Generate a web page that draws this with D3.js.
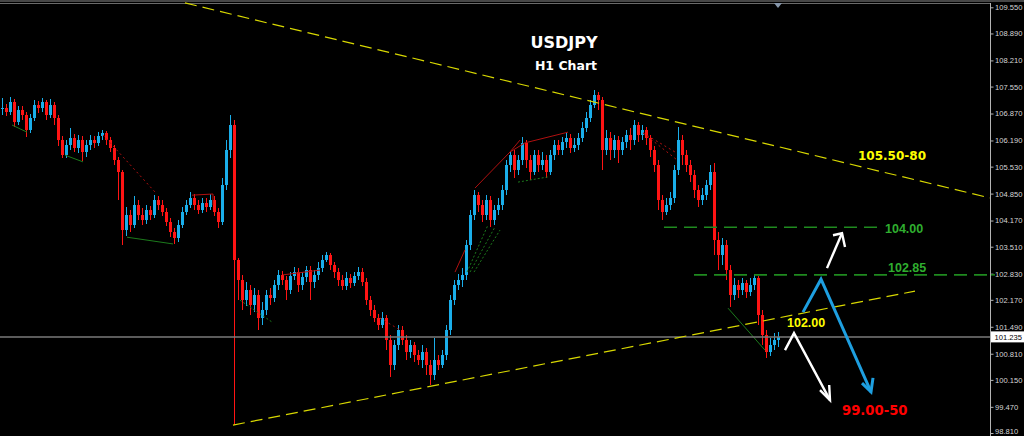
<!DOCTYPE html>
<html><head><meta charset="utf-8">
<script src="https://cdn.jsdelivr.net/npm/d3@7"></script>
<style>html,body{margin:0;padding:0;background:#000;overflow:hidden}</style>
</head><body>
<svg id="c" width="1024" height="436"></svg>
<script>
// ---- DATA (USDJPY H1, prices) ----
const closes = [
107.01,106.91,107.16,106.66,106.96,106.83,106.45,106.76,107.08,107.01,107.16,106.83,107.08,106.76,106.20,
105.82,106.08,106.25,106.00,106.20,105.90,106.08,106.20,106.13,106.30,106.38,106.20,106.00,105.70,105.39,
103.93,104.31,104.06,104.56,104.31,104.18,104.43,104.31,104.69,104.56,104.38,104.13,103.88,103.73,104.06,
104.38,104.56,104.74,104.56,104.43,104.61,104.51,104.69,104.38,104.13,105.07,105.95,106.58,103.17,
102.67,102.16,102.42,102.04,102.29,101.71,101.91,102.29,102.21,102.54,102.80,102.67,102.42,102.77,102.87,102.54,
102.74,102.92,102.62,102.80,102.97,103.17,103.30,103.05,102.87,102.67,102.52,102.72,102.59,102.77,102.87,
102.62,102.16,101.91,101.71,101.53,101.71,101.15,100.52,101.03,101.41,101.15,100.85,101.03,100.78,100.65,
100.85,100.52,100.27,100.65,100.52,100.78,101.41,102.16,102.54,102.67,102.80,103.55,104.31,104.81,104.56,
104.31,104.69,104.18,104.43,104.56,104.94,105.57,105.82,105.44,105.70,106.13,105.70,105.39,105.82,105.57,
105.70,105.39,105.82,106.08,105.95,106.15,106.25,106.00,106.08,106.25,106.50,106.76,107.08,107.34,107.21,
105.95,106.25,105.95,106.20,105.95,106.15,106.33,106.20,106.58,106.33,106.45,106.25,105.95,105.57,104.69,
104.38,104.56,104.74,105.44,106.20,105.82,105.57,105.32,104.94,104.69,104.81,105.07,105.39,103.68,103.30,
103.55,102.92,102.29,102.54,102.42,102.59,102.37,102.54,102.72,101.79,101.28,100.85,101.03,101.15,101.24];
const highs = [
107.26,107.11,107.29,107.24,107.06,107.06,106.91,106.86,107.21,107.19,107.26,107.21,107.24,107.16,106.83,
106.30,106.20,106.50,106.35,106.33,106.30,106.20,106.33,106.30,106.40,106.45,106.43,106.28,106.08,105.77,
105.44,104.51,104.43,104.79,104.69,104.49,104.56,104.54,104.81,104.79,104.69,104.49,104.23,103.98,104.18,
104.51,104.69,104.89,104.84,104.69,104.74,104.74,104.84,104.79,104.49,105.24,106.20,106.83,106.71,
103.22,102.80,102.62,102.54,102.47,102.42,102.11,102.42,102.47,102.67,102.92,102.90,102.77,102.87,103.00,102.97,
102.87,103.02,103.02,102.92,103.12,103.30,103.38,103.35,103.12,102.97,102.80,102.87,102.82,102.87,103.00,
102.97,102.72,102.27,102.04,101.81,101.86,101.79,101.28,101.15,101.53,101.51,101.28,101.15,101.10,100.90,
101.03,100.95,100.65,101.20,100.78,100.90,101.53,102.29,102.67,102.82,102.97,103.68,104.43,104.94,104.89,
104.69,104.81,104.79,104.56,104.74,105.07,105.70,105.90,105.95,105.82,106.28,106.20,105.82,105.95,105.95,
105.90,105.82,105.95,106.20,106.20,106.28,106.38,106.35,106.25,106.38,106.66,106.91,107.21,107.46,107.41,
107.29,106.45,106.40,106.33,106.30,106.28,106.45,106.50,106.71,106.66,106.58,106.53,106.33,106.05,105.70,
104.81,104.74,104.89,105.57,106.53,106.33,105.95,105.70,105.44,105.07,104.99,105.19,105.57,105.62,103.88,
103.73,103.68,103.05,102.72,102.67,102.72,102.67,102.72,102.82,102.77,101.91,101.41,101.20,101.33,101.36];
const lows = [
106.83,106.81,106.83,106.53,106.58,106.71,106.28,106.38,106.68,106.88,106.91,106.71,106.76,106.58,106.05,
105.75,105.75,105.95,105.90,105.87,105.67,105.77,105.95,106.00,106.05,106.20,106.08,105.90,105.57,104.69,
103.55,103.78,103.88,103.98,104.18,104.06,104.08,104.18,104.23,104.43,104.28,104.03,103.75,103.58,103.63,
103.98,104.31,104.49,104.43,104.33,104.36,104.38,104.43,104.28,103.98,104.06,104.94,105.75,99.01,
102.16,101.91,102.01,101.79,101.86,101.41,101.53,101.79,102.04,102.11,102.42,102.54,102.16,102.32,102.67,102.37,
102.42,102.62,102.16,102.47,102.67,102.87,103.12,102.92,102.72,102.52,102.42,102.42,102.47,102.52,102.67,
102.52,102.04,101.76,101.61,101.41,101.46,100.90,100.22,100.40,100.90,101.03,100.65,100.70,100.60,100.52,
100.45,100.27,100.02,100.14,100.40,100.45,100.65,101.28,102.04,102.42,102.49,102.67,103.43,104.18,104.38,
104.13,104.18,104.01,104.06,104.31,104.43,104.81,105.39,105.24,105.32,105.57,105.49,105.19,105.32,105.39,
105.44,105.24,105.32,105.70,105.82,105.82,106.00,105.87,105.90,105.95,106.15,106.40,106.66,107.01,106.96,
105.44,105.82,105.70,105.75,105.62,105.82,106.00,105.95,106.08,106.15,106.20,106.08,105.77,105.39,104.43,
104.18,104.31,104.43,104.61,105.32,105.57,105.39,105.14,104.74,104.51,104.56,104.69,104.94,103.30,102.92,
103.05,102.67,101.99,102.16,102.21,102.29,102.21,102.26,102.42,101.53,101.03,100.70,100.75,100.90,100.98];

const tickLabels = ["109.550","108.890","108.210","107.550","106.870","106.190","105.530","104.850",
  "104.170","103.510","102.830","102.170","101.490","100.810","100.150","99.470","98.810"];
const currentPrice = 101.235;

// trend lines and levels: [barIndex, price]
const upperTrend = [[45.75,109.66],[247,104.74]];
const lowerTrend = [[57.75,99.01],[228.25,102.39]];
const level104 = [[165.5,104.00],[219.5,104.00]];
const level10285 = [[173,102.80],[247,102.80]];

// helper zigzag / fractal lines
const greenSolid = [
  [[2.5,106.58],[6.25,106.40]],
  [[15.75,105.82],[20.25,105.65]],
  [[31.25,103.75],[42.75,103.58]],
  [[181.5,101.96],[190.75,100.90]]
];
const greenDotted = [
  [[59.5,102.16],[67.5,101.61]],
  [[116.25,102.87],[121.5,104.06]],
  [[117,102.87],[123.25,104.01]],
  [[118,102.87],[124.5,103.93]],
  [[129,105.14],[136.5,105.27]]
];
const redSolid = [
  [[47.5,104.81],[52.75,104.84],[52.75,104.56]],
  [[70.25,102.80],[79.5,102.92]],
  [[113.25,102.87],[115.75,103.43]],
  [[118.25,104.99],[127,105.90],[129.5,106.20]],
  [[127,105.90],[130.75,106.13],[141.5,106.40]]
];
const redDotted = [
  [[25.25,106.33],[38.25,104.89]],
  [[94.5,101.71],[99.5,101.41]],
  [[160.25,106.38],[168.75,105.70]],
  [[160.25,106.38],[168.75,105.87]]
];

// projection arrows
const blueArrow = [[200.25,101.86],[204.75,102.69],[217.25,99.85]];
const blueHead = [[215,100.07],[217.25,99.85],[217.75,100.20]];
const whiteUp = [[206.25,102.97],[210,103.85]];
const whiteUpHead = [[207.75,103.80],[210,103.85],[210.75,103.50]];
const whiteDown = [[195.75,100.90],[198,101.33],[207,99.64]];
const whiteDownHead = [[204.5,99.89],[207,99.64],[206.8,100.02]];

// ---- DRAW ----
const svg = d3.select("#c");
svg.append("rect").attr("width",1024).attr("height",436).attr("fill","#000");

const x = d3.scaleLinear().domain([0,247]).range([2,990]);
const y = d3.scaleLinear().domain([98.81,109.55]).range([433,7.3]);
const line = d3.line().x(d=>x(d[0])).y(d=>y(d[1]));

// top border
svg.append("line").attr("x1",0).attr("x2",1024).attr("y1",1).attr("y2",1).attr("stroke","#8c8c8c").attr("stroke-width",1);
svg.append("line").attr("x1",0).attr("x2",990).attr("y1",3.5).attr("y2",3.5).attr("stroke","#6a6a6a").attr("stroke-width",1);

// candles
const opens = closes.map((c,i)=> i===0 ? c : closes[i-1]);
const cg = svg.append("g").attr("shape-rendering","crispEdges");
closes.forEach((c,i)=>{
  const o = opens[i];
  const up = c >= o;
  const col = up ? "#1aaeea" : "#ff1414";
  const hi = Math.max(highs[i], o, c), lo = Math.min(lows[i], o, c);
  cg.append("line").attr("x1",x(i)).attr("x2",x(i)).attr("y1",y(hi)).attr("y2",y(lo))
    .attr("stroke",col).attr("stroke-width",1);
  const top = y(Math.max(o,c)), bot = y(Math.min(o,c));
  cg.append("rect").attr("x",x(i)-1.5).attr("width",3).attr("y",top).attr("height",Math.max(1,bot-top))
    .attr("fill",col);
});

// helper lines
greenSolid.forEach(p=>svg.append("path").attr("d",line(p)).attr("fill","none").attr("stroke","#1c7a1c").attr("stroke-width",1));
greenDotted.forEach(p=>svg.append("path").attr("d",line(p)).attr("fill","none").attr("stroke","#1c7a1c").attr("stroke-width",1).attr("stroke-dasharray","2,2"));
redSolid.forEach(p=>svg.append("path").attr("d",line(p)).attr("fill","none").attr("stroke","#b01010").attr("stroke-width",1));
redDotted.forEach(p=>svg.append("path").attr("d",line(p)).attr("fill","none").attr("stroke","#b01010").attr("stroke-width",1).attr("stroke-dasharray","2,3"));

// current price line
svg.append("line").attr("x1",0).attr("x2",990).attr("y1",y(currentPrice)).attr("y2",y(currentPrice))
  .attr("stroke","#7a7a7a").attr("stroke-width",1.5);

// levels
[level104, level10285].forEach(p=>svg.append("path").attr("d",line(p)).attr("fill","none")
  .attr("stroke","#1f8a1f").attr("stroke-width",1.6).attr("stroke-dasharray","13,7"));

// trend lines
[upperTrend, lowerTrend].forEach(p=>svg.append("path").attr("d",line(p)).attr("fill","none")
  .attr("stroke","#d8d800").attr("stroke-width",1.2).attr("stroke-dasharray","12,6"));

// arrows
const arrow = (pts,col,w)=>svg.append("path").attr("d",line(pts)).attr("fill","none").attr("stroke",col)
  .attr("stroke-width",w).attr("stroke-linejoin","miter").attr("stroke-linecap","butt");
arrow(blueArrow,"#1e9fe0",3); arrow(blueHead,"#1e9fe0",3);
arrow(whiteUp,"#ffffff",2.4); arrow(whiteUpHead,"#ffffff",2.4);
arrow(whiteDown,"#ffffff",2.4); arrow(whiteDownHead,"#ffffff",2.4);

// texts
const T = (t,xp,yp,size,col,fam,anchor)=>svg.append("text").attr("x",xp).attr("y",yp).text(t)
  .attr("font-family",fam).attr("font-weight","bold").attr("font-size",size).attr("fill",col)
  .attr("text-anchor",anchor||"start");
T("USDJPY",564,48,16,"#ffffff","DejaVu Sans","middle");
T("H1 Chart",566,70,12.5,"#ffffff","DejaVu Sans","middle");
T("105.50-80",858,160,12,"#ffff00","DejaVu Sans");
T("104.00",885,233,12.5,"#2fae2f","Liberation Sans");
T("102.85",888,272,12.5,"#2fae2f","Liberation Sans");
T("102.00",787,327,12.5,"#ffff00","Liberation Sans");
T("99.00-50",842,415,13.2,"#ff0000","DejaVu Sans");

// right axis
svg.append("line").attr("x1",990.5).attr("x2",990.5).attr("y1",3).attr("y2",436).attr("stroke","#b4b4b4").attr("stroke-width",1);
const ax = svg.append("g").attr("transform","translate(990.5,0)")
  .call(d3.axisRight(y).tickValues(tickLabels.map(Number)).tickFormat((d,i)=>tickLabels[i]).tickSize(3).tickPadding(1.5));
ax.select(".domain").remove();
ax.selectAll(".tick line").attr("stroke","#b4b4b4");
ax.selectAll(".tick text").attr("fill","#d6d6d6").attr("font-family","Liberation Sans").attr("font-size",7.6);
// keep the bottom label inside the picture
ax.selectAll(".tick text").filter((d,i)=>i===tickLabels.length-1).attr("dy","0.05em");
// green level tick
svg.append("line").attr("x1",991).attr("x2",995).attr("y1",y(102.80)).attr("y2",y(102.80)).attr("stroke","#1f8a1f").attr("stroke-width",1.5);

// current price box
svg.append("rect").attr("x",991).attr("y",y(currentPrice)-5.5).attr("width",33).attr("height",11).attr("fill","#ffffff");
svg.append("text").attr("x",994.5).attr("y",y(currentPrice)+3).text(d3.format(".3f")(currentPrice))
  .attr("font-family","Liberation Sans").attr("font-size",7.6).attr("fill","#000");

// shift marker
svg.append("path").attr("d",`M${x(194)-4},3 L${x(194)+4},3 L${x(194)},8 Z`).attr("fill","#8696aa");
</script>
</body></html>
